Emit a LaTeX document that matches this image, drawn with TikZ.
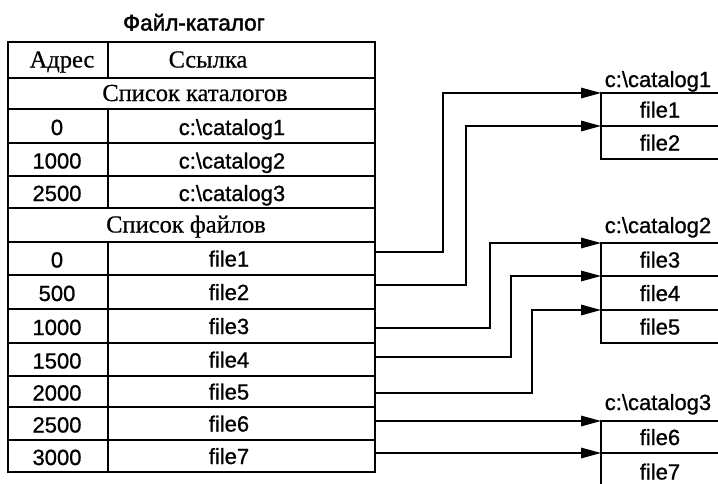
\documentclass[tikz,border=0pt]{standalone}
\usepackage{fontspec}
\setmainfont[FakeBold=0.6]{Liberation Serif}
\newfontfamily\sansf[FakeBold=0.9]{Liberation Sans}
\newfontfamily\titlef[FakeBold=1.8]{Liberation Sans}
\usetikzlibrary{arrows.meta}
\begin{document}
\begin{tikzpicture}[x=1pt,y=-1pt,
  cell/.style={draw, line width=1.9pt, inner sep=0pt, outer sep=0pt},
  bcell/.style={draw, line width=1.5pt, inner sep=0pt, outer sep=0pt, minimum width=122pt,
    font=\sansf\fontsize{22}{26}\selectfont, text height=16pt, text depth=0pt},
  sans/.style={font=\sansf\fontsize{22}{26}\selectfont, inner sep=0pt, text height=16pt, text depth=0pt},
  serif/.style={font=\fontsize{24.5}{28}\selectfont, inner sep=0pt, text height=15pt, text depth=0pt},
  arr/.style={line width=1.6pt, -{Triangle[length=20pt,width=10.5pt]}}]
\fill[white] (0,0) rectangle (718,483);
\useasboundingbox (0,0) rectangle (718,483);

% title
\node[sans, font=\titlef\fontsize{22.5}{26}\selectfont] (title) at (194,22.5) {Файл-каталог};

% header
\node[cell, minimum width=100pt, minimum height=36pt] (hA) at (58,60) {};
\node[cell, minimum width=267pt, minimum height=36pt] (hS) at (241.5,60) {};
\node[serif] at (62,60) {Адрес};
\node[serif] at (208,60) {Ссылка};

% list of catalogs
\node[cell, minimum width=367pt, minimum height=31pt] (lc) at (191.5,93.5) {};
\node[serif] at (195,93.5) {Список каталогов};
\node[cell, minimum width=100pt, minimum height=34pt] (a1) at (58,126) {};
\node[cell, minimum width=267pt, minimum height=34pt] (c1) at (241.5,126) {};
\node[cell, minimum width=100pt, minimum height=33pt] (a2) at (58,159.5) {};
\node[cell, minimum width=267pt, minimum height=33pt] (c2) at (241.5,159.5) {};
\node[cell, minimum width=100pt, minimum height=32pt] (a3) at (58,192) {};
\node[cell, minimum width=267pt, minimum height=32pt] (c3) at (241.5,192) {};
\node[sans] at (57,127) {0};
\node[sans] at (57,160.5) {1000};
\node[sans] at (57,193) {2500};
\node[sans] at (232,127) {c:\textbackslash catalog1};
\node[sans] at (232,160.5) {c:\textbackslash catalog2};
\node[sans] at (232,193) {c:\textbackslash catalog3};

% list of files
\node[cell, minimum width=367pt, minimum height=34pt] (lf) at (191.5,225) {};
\node[serif] at (186,225) {Список файлов};

\foreach \n/\y/\h/\ad in {1/258.5/33/0, 2/292/34/500, 3/326/34/1000, 4/359.5/33/1500,
                           5/391.5/31/2000, 6/423.5/33/2500, 7/456/32/3000}{
  \node[cell, minimum width=100pt, minimum height=\h pt] (b\n) at (58,\y) {};
  \node[cell, minimum width=267pt, minimum height=\h pt] (f\n) at (241.5,\y) {};
  \node[sans] at (57,\y+1) {\ad};
  \node[sans] at (229,\y) {file\n};
}

% catalog boxes
\node[sans] (t1) at (658,79) {c:\textbackslash catalog1};
\node[bcell, minimum height=33pt] (k1) at (662,109.5) {\hspace*{-4pt}file1};
\node[bcell, minimum height=33pt] (k2) at (662,142.5) {\hspace*{-4pt}file2};

\node[sans] (t2) at (658,225) {c:\textbackslash catalog2};
\node[bcell, minimum height=33pt] (k3) at (662,259.5) {\hspace*{-4pt}file3};
\node[bcell, minimum height=34pt] (k4) at (662,293) {\hspace*{-4pt}file4};
\node[bcell, minimum height=33pt] (k5) at (662,326.5) {\hspace*{-4pt}file5};

\node[sans] (t3) at (658,402) {c:\textbackslash catalog3};
\node[bcell, minimum height=32pt] (k6) at (662,437) {\hspace*{-4pt}file6};
\node[bcell, minimum height=37pt] (k7) at (662,471.5) {\hspace*{-4pt}file7};

% bend columns
\coordinate (v1) at (443,0);
\coordinate (v2) at (466,0);
\coordinate (v3) at (490,0);
\coordinate (v4) at (511,0);
\coordinate (v5) at (532,0);

% connectors
\draw[arr] (f1.east) ++(0,-6.5) -| (v1 |- k1.north west) -- (k1.north west);
\draw[arr] (f2.east) ++(0,-7) -| (v2 |- k2.north west) -- (k2.north west);
\draw[arr] (f3.east) ++(0,2) -| (v3 |- k3.north west) -- (k3.north west);
\draw[arr] (f4.east) ++(0,-2.5) -| (v4 |- k4.north west) -- (k4.north west);
\draw[arr] (f5.east) ++(0,1.5) -| (v5 |- k5.north west) -- (k5.north west);
\draw[arr] (f6.east |- k6.north west) -- (k6.north west);
\draw[arr] (f7.east |- k7.north west) -- (k7.north west);
\end{tikzpicture}
\end{document}
